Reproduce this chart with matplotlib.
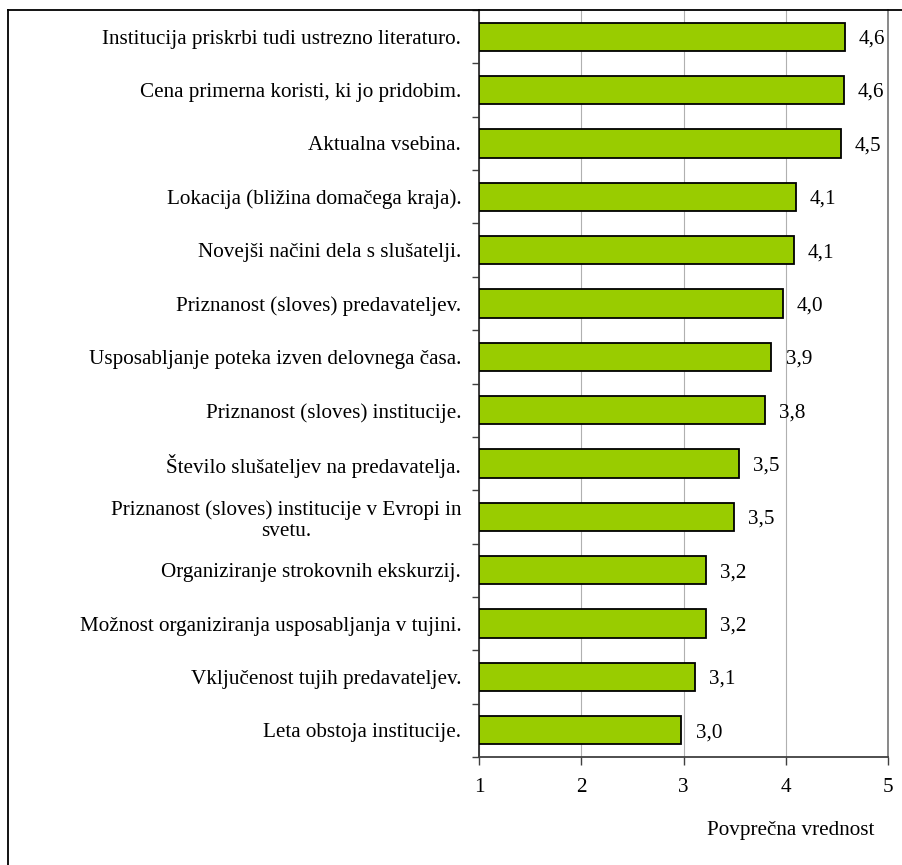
import numpy as np
import matplotlib
matplotlib.use("Agg")
import matplotlib.pyplot as plt
from matplotlib.lines import Line2D

plt.rcParams['font.family'] = ['Liberation Serif', 'DejaVu Serif']

# statements, top to bottom as shown
labels = [
    "Institucija priskrbi tudi ustrezno literaturo.",
    "Cena primerna koristi, ki jo pridobim.",
    "Aktualna vsebina.",
    "Lokacija (bližina domačega kraja).",
    "Novejši načini dela s slušatelji.",
    "Priznanost (sloves) predavateljev.",
    "Usposabljanje poteka izven delovnega časa.",
    "Priznanost (sloves) institucije.",
    "Število slušateljev na predavatelja.",
    "Priznanost (sloves) institucije v Evropi in\nsvetu.",
    "Organiziranje strokovnih ekskurzij.",
    "Možnost organiziranja usposabljanja v tujini.",
    "Vključenost tujih predavateljev.",
    "Leta obstoja institucije.",
]
# mean ratings (scale 1-5)
means = [4.58, 4.57, 4.54, 4.10, 4.08, 3.97, 3.86, 3.80, 3.54, 3.49, 3.22, 3.22, 3.11, 2.98]
x_ticks = [1, 2, 3, 4, 5]

FS = 15.2

fig = plt.figure(figsize=(9.03, 8.65), dpi=100)
ax = fig.add_axes([479.3 / 903, 1 - 757 / 865, (887.7 - 479.3) / 903, (757 - 10) / 865])

ypos = np.arange(len(labels))
ax.barh(ypos, np.array(means) - 1, left=1, height=0.53,
        color="#99CC00", edgecolor="black", linewidth=1.3, zorder=3)

for y, v in zip(ypos, means):
    ax.text(v + 0.14, y, f"{v:.1f}".replace(".", ","), va="center_baseline", ha="left",
            fontsize=FS, zorder=4)

ax.set_xlim(1, 5)
ax.set_ylim(len(labels) - 0.5, -0.5)
ax.set_xticks(x_ticks)
ax.set_xticklabels([str(t) for t in x_ticks], fontsize=FS)
ax.set_yticks(ypos)
ax.set_yticklabels(labels, fontsize=FS, multialignment="center", linespacing=1.17)
ax.set_yticks(np.arange(len(labels) + 1) - 0.5, minor=True)
ax.tick_params(axis="y", which="major", length=0, pad=13)
ax.tick_params(axis="y", which="minor", length=5, width=1, color="#404040")
ax.tick_params(axis="x", length=6, width=1, color="#404040", pad=9)

ax.grid(axis="x", color="#b0b0b0", linewidth=0.8, zorder=0)
ax.spines["top"].set_visible(False)
ax.spines["left"].set_color("#303030")
ax.spines["bottom"].set_color("#404040")
ax.spines["right"].set_color("#808080")
for s in ("left", "bottom", "right"):
    ax.spines[s].set_linewidth(1.3)

fig.text(874 / 903, 1 - 830 / 865, "Povprečna vrednost", ha="right", va="center",
         fontsize=FS)

# frame around the chart
fig.add_artist(Line2D([8.3 / 903, 1.0], [1 - 10 / 865, 1 - 10 / 865],
                      color="black", linewidth=1.3))
fig.add_artist(Line2D([8.3 / 903, 8.3 / 903], [0.0, 1 - 10 / 865],
                      color="black", linewidth=1.3))

fig.savefig("out.png", dpi=100)
